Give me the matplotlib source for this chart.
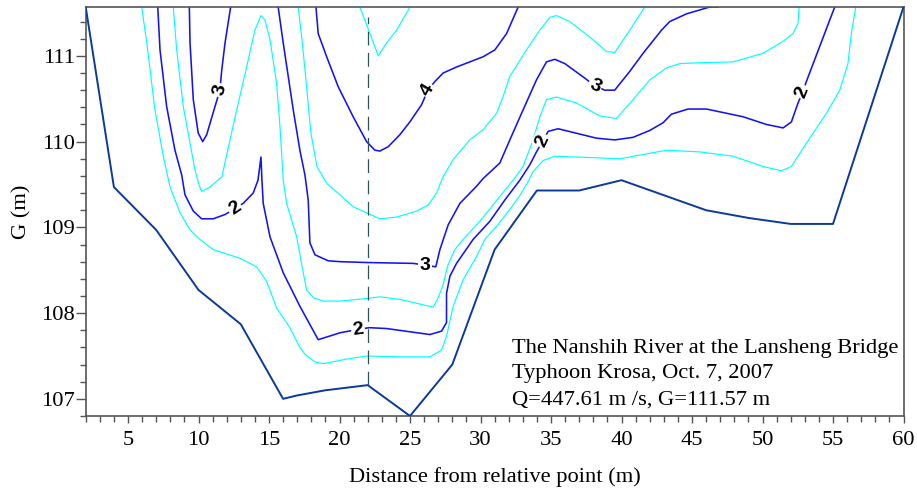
import matplotlib
matplotlib.use("Agg")
import matplotlib.pyplot as plt

# ---- channel bed profile (distance m, elevation m) ----
bed_x = [2, 4, 7, 10, 13, 16, 17, 19, 22, 25, 28, 31, 34, 37, 40, 46, 49, 52, 55, 60]
bed_y = [111.57, 109.47, 108.97, 108.27, 107.87, 107.00, 107.04, 107.10, 107.16, 106.80,
         107.40, 108.74, 109.43, 109.43, 109.55, 109.20, 109.11, 109.04, 109.04, 111.57]

water_level = 111.57
survey_x = 22.0

# ---- isovels (velocity contours, m/s) ----
v15_x = [5.97, 6.35, 6.91, 7.48, 7.98, 8.69, 9.40, 10.10, 11.05, 12.94, 14.12, 14.83, 15.54,
         16.48, 17.19, 17.55, 18.26, 18.85, 20.38, 21.92, 24.28, 26.41, 27.24, 27.59, 28.06,
         28.77, 29.72, 30.31, 31.23, 32.08, 32.79, 33.36, 33.73, 34.44, 35.27, 38.46, 39.88,
         43.19, 45.55, 47.91, 50.04, 51.34, 52.05, 53.11, 54.53, 55.48, 56.06, 56.30, 56.61]
v15_y = [111.57, 111.13, 110.37, 109.85, 109.47, 109.17, 108.97, 108.86, 108.74, 108.64,
         108.54, 108.37, 108.06, 107.83, 107.60, 107.52, 107.43, 107.41, 107.46, 107.50,
         107.49, 107.49, 107.57, 107.73, 108.08, 108.39, 108.66, 108.86, 109.03, 109.21,
         109.37, 109.53, 109.65, 109.78, 109.83, 109.81, 109.80, 109.90, 109.88, 109.83,
         109.71, 109.66, 109.71, 109.98, 110.33, 110.60, 110.91, 111.26, 111.57]

v2_x = [7.11, 7.27, 7.74, 8.33, 8.81, 9.04, 9.63, 10.22, 11.05, 11.88, 12.59, 13.17, 13.88,
        14.22, 14.43, 14.50, 14.59, 15.07, 16.01, 17.19, 18.49, 20.03, 21.31, 22.11, 23.34,
        26.41, 27.24, 27.59, 27.59, 27.83, 28.30, 29.48, 30.66, 31.73, 32.79, 33.50, 33.97,
        34.42, 34.80, 35.51, 38.23, 39.52, 40.82, 42.00, 42.95, 43.54, 44.72, 46.03, 48.62,
        50.28, 51.46, 52.05, 52.52, 52.85, 53.11, 55.12]
v2_y = [111.57, 111.07, 110.41, 109.90, 109.61, 109.38, 109.19, 109.10, 109.10, 109.15,
        109.22, 109.28, 109.40, 109.55, 109.82, 109.55, 109.28, 108.89, 108.47, 108.08,
        107.69, 107.77, 107.81, 107.83, 107.82, 107.75, 107.79, 107.89, 108.23, 108.43,
        108.58, 108.86, 109.07, 109.32, 109.55, 109.73, 109.88, 110.01, 110.12, 110.15,
        110.04, 110.02, 110.05, 110.13, 110.22, 110.32, 110.38, 110.38, 110.29, 110.20,
        110.16, 110.23, 110.45, 110.58, 110.70, 111.57]

v25_x = [8.21, 8.45, 8.92, 9.40, 9.75, 10.03, 10.22, 10.81, 11.66, 12.23, 12.71, 13.41, 14.00,
         14.43, 14.71, 15.07, 15.54, 15.78, 16.01, 16.25, 16.96, 17.43, 17.67, 18.14, 18.85,
         20.03, 21.92, 22.86, 24.28, 26.64, 27.00, 27.35, 27.69, 28.18, 28.77, 29.95, 31.37,
         32.31, 33.02, 33.73, 34.21, 34.68, 35.39, 36.81, 38.46, 39.64, 40.82, 42.01, 43.19,
         44.13, 45.55, 47.91, 50.04, 51.46, 52.16, 52.52, 52.59]
v25_y = [111.57, 111.07, 110.41, 109.98, 109.67, 109.50, 109.42, 109.47, 109.59, 110.02,
         110.37, 110.87, 111.30, 111.47, 111.42, 111.19, 110.68, 110.17, 109.55, 109.28,
         108.89, 108.47, 108.27, 108.18, 108.14, 108.14, 108.17, 108.19, 108.16, 108.07,
         108.18, 108.33, 108.56, 108.74, 108.86, 109.07, 109.36, 109.55, 109.71, 110.02,
         110.29, 110.49, 110.52, 110.45, 110.30, 110.27, 110.49, 110.72, 110.86, 110.91,
         110.92, 110.93, 111.03, 111.17, 111.26, 111.38, 111.57]

v3a_x = [9.35, 9.40, 9.63, 9.98, 10.30, 10.58, 11.17, 11.52, 11.64, 11.88, 12.28]
v3a_y = [111.57, 111.15, 110.49, 110.10, 110.00, 110.08, 110.41, 110.60, 110.82, 111.15, 111.57]

v3b_x = [15.65, 16.01, 16.72, 17.19, 17.55, 17.78, 17.90, 18.26, 19.20, 20.03, 21.92, 25.23,
         26.06, 26.83, 27.12, 27.71, 28.54, 29.72, 30.19, 31.37, 32.08, 33.02, 33.97, 34.68,
         35.27, 35.98, 37.40, 38.11, 38.82, 39.52, 40.59, 41.53, 42.84, 43.42, 44.61, 46.26,
         46.85]
v3b_y = [111.57, 111.15, 110.37, 109.90, 109.61, 109.32, 108.82, 108.68, 108.61, 108.60,
         108.59, 108.58, 108.56, 108.54, 108.74, 109.03, 109.28, 109.48, 109.57, 109.75,
         110.02, 110.37, 110.72, 110.93, 110.96, 110.91, 110.74, 110.65, 110.60, 110.60,
         110.82, 111.03, 111.30, 111.40, 111.49, 111.57, 111.57]

v35_x = [17.07, 17.34, 17.62, 17.97, 18.40, 19.11, 20.03, 20.97, 22.86, 24.05, 25.47, 26.29,
         26.88, 27.35, 28.06, 29.24, 30.19, 31.14, 31.61, 32.08, 33.26, 34.21, 34.92, 35.39,
         36.33, 37.75, 38.94, 39.52, 40.59, 41.65]
v35_y = [111.57, 111.19, 110.72, 110.10, 109.71, 109.51, 109.38, 109.24, 109.10, 109.12,
         109.19, 109.26, 109.40, 109.59, 109.79, 110.02, 110.14, 110.33, 110.53, 110.76,
         111.07, 111.30, 111.45, 111.47, 111.40, 111.22, 111.05, 111.04, 111.30, 111.57]

v4_x = [18.33, 18.49, 19.09, 19.91, 20.97, 21.92, 22.51, 22.86, 23.45, 24.28, 24.99, 25.82,
        26.27, 26.76, 27.35, 28.30, 30.19, 31.02, 31.85, 32.67]
v4_y = [111.57, 111.26, 110.99, 110.64, 110.29, 110.00, 109.90, 109.89, 109.94, 110.08,
        110.23, 110.43, 110.60, 110.70, 110.80, 110.87, 110.99, 111.07, 111.26, 111.57]

v45_x = [21.45, 22.16, 22.75, 23.34, 24.05, 25.00]
v45_y = [111.57, 111.26, 111.00, 111.15, 111.30, 111.57]

isovels = [
    (1.5, v15_x, v15_y),
    (2.0, v2_x, v2_y),
    (2.5, v25_x, v25_y),
    (3.0, v3a_x, v3a_y),
    (3.0, v3b_x, v3b_y),
    (3.5, v35_x, v35_y),
    (4.0, v4_x, v4_y),
    (4.5, v45_x, v45_y),
]

# inline contour labels: level, position, text angle
label_level = [2, 2, 2, 2, 3, 3, 3, 4]
label_x = [12.59, 21.31, 34.42, 52.85, 11.52, 26.06, 38.11, 26.27]
label_y = [109.22, 107.81, 110.01, 110.58, 110.60, 108.56, 110.65, 110.60]
label_rot = [34, 8, 65, 68, 78, 0, -25, 60]

info_lines = ["The Nanshih River at the Lansheng Bridge",
              "Typhoon Krosa, Oct. 7, 2007",
              "Q=447.61 m /s, G=111.57 m"]

BLUE = "#1414EE"
CYAN = "#00FFFF"
BED = "#0B3A98"
AXIS = "#555555"
SERIF = ["Liberation Serif", "DejaVu Serif"]
TXT = 16.2

fig = plt.figure(figsize=(9.17, 4.90), dpi=100)
ax = fig.add_axes([85.7 / 917, 1 - 416 / 490, 817.8 / 917, 409 / 490])

for level, xs, ys in isovels:
    whole = float(level).is_integer()
    ax.plot(xs, ys, color=BLUE if whole else CYAN,
            lw=1.15 if whole else 0.85, solid_joinstyle="round", zorder=2)

ax.plot(bed_x, bed_y, color=BED, lw=1.4, zorder=3)

# survey vertical
bed_at_survey = bed_y[bed_x.index(survey_x)]
ax.plot([survey_x, survey_x], [bed_at_survey, 111.45], color="#2F5252",
        lw=0.9, linestyle=(0, (11, 6)), zorder=4)

for lev, lx, ly, rot in zip(label_level, label_x, label_y, label_rot):
    ax.text(lx, ly, f"{lev:g}", rotation=rot, rotation_mode="anchor",
            ha="center", va="center", fontsize=14, fontweight="bold",
            family=["Liberation Sans", "DejaVu Sans"], color="black", zorder=5,
            bbox=dict(boxstyle="square,pad=0.08", fc="white", ec="none"))

ax.set_xlim(2, 60)
ax.set_ylim(106.8, water_level)
ax.set_xticks(range(5, 61, 5))
ax.set_xticks(range(2, 61), minor=True)
ax.set_yticks([107, 108, 109, 110, 111])
ax.set_yticks([106.8 + 0.2 * i for i in range(24)], minor=True)

for s in ax.spines.values():
    s.set_color(AXIS)
    s.set_linewidth(1.2)

ax.tick_params(axis="x", which="major", length=5.2, width=1.0, color=AXIS, pad=5.5,
               labelsize=TXT, labelcolor="black")
ax.tick_params(axis="x", which="minor", length=4.4, width=1.0, color=AXIS)
ax.tick_params(axis="y", which="major", length=7.2, width=1.0, color=AXIS, pad=0.6,
               labelsize=TXT, labelcolor="black")
ax.tick_params(axis="y", which="minor", length=4.3, width=1.0, color=AXIS)
for t in ax.get_xticklabels() + ax.get_yticklabels():
    t.set_family(SERIF)

ax.set_xlabel("Distance from relative point (m)", fontsize=TXT, family=SERIF)
ax.set_ylabel("G (m)", fontsize=TXT, family=SERIF)
ax.xaxis.set_label_coords(0.5, -0.124)
ax.yaxis.set_label_coords(-0.066, 0.5)

for txt, yb in zip(info_lines, [0.154, 0.0917, 0.0273]):
    ax.text(0.521, yb, txt, transform=ax.transAxes, ha="left", va="baseline",
            fontsize=TXT, family=SERIF, color="black", zorder=6)

fig.savefig("out.png", dpi=100)
